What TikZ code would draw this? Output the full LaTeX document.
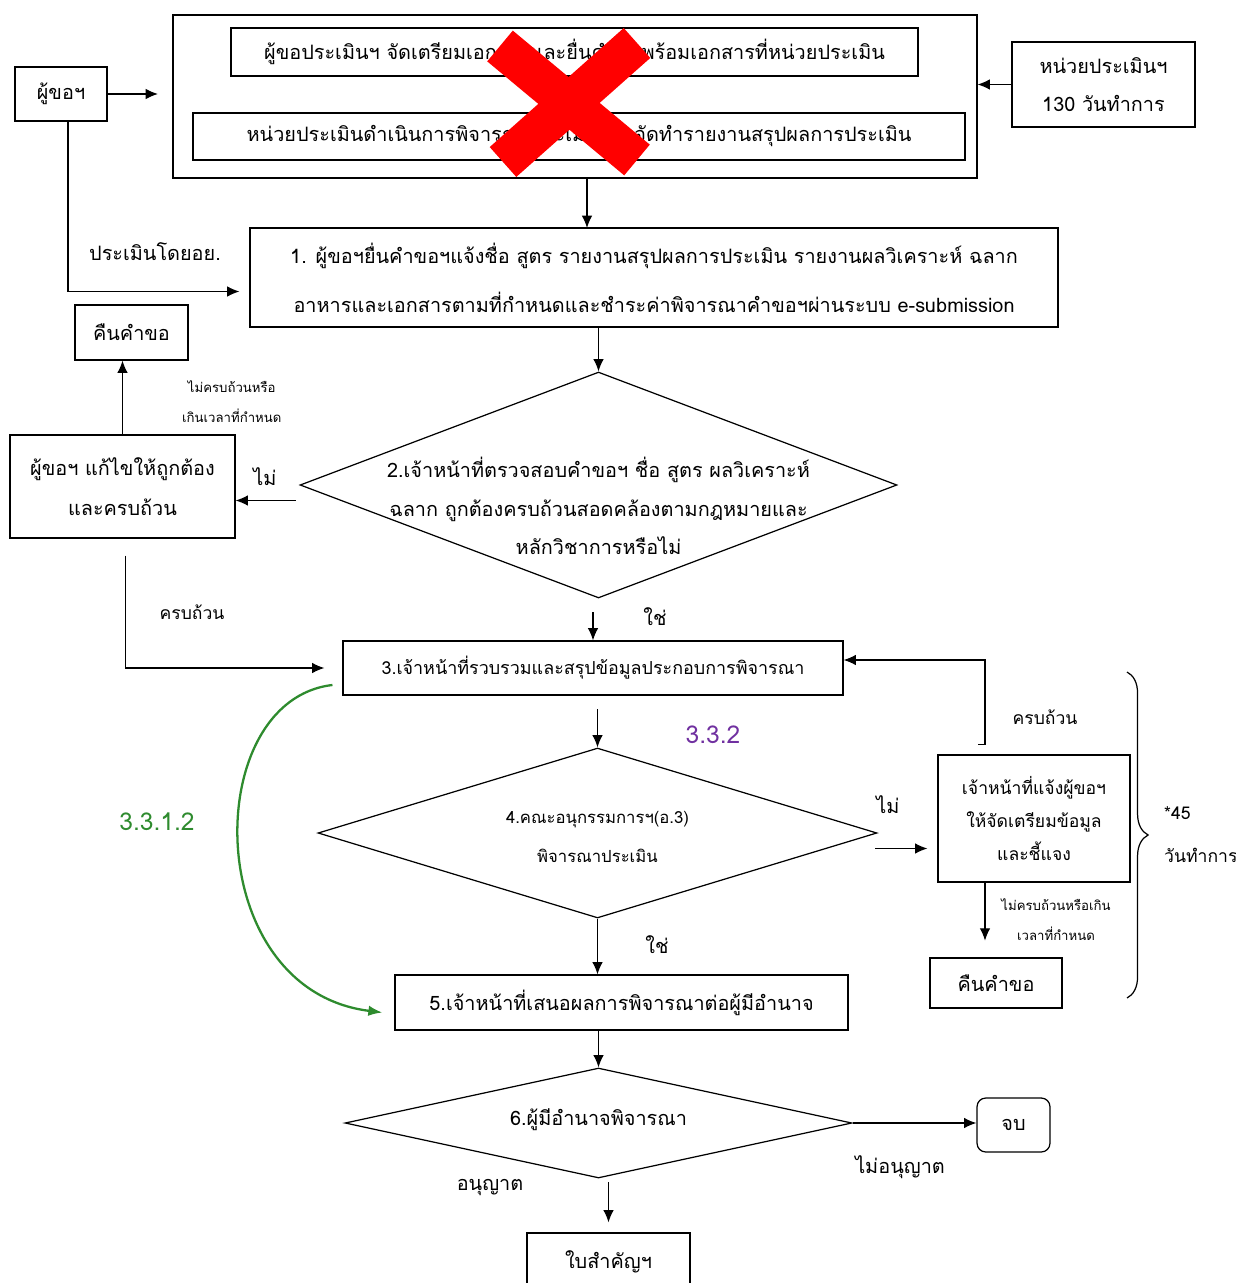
\documentclass[tikz,border=0pt]{standalone}
\usepackage{fontspec}
\setmainfont{Loma}[Script=Thai]
\usepackage{tikz}
\usetikzlibrary{arrows,arrows.meta,positioning,calc,shapes.geometric,decorations.pathreplacing}
\definecolor{stepgreen}{RGB}{46,139,46}
\definecolor{steppurple}{RGB}{112,48,160}

\begin{document}
\begin{tikzpicture}[x=0.02cm,y=-0.02cm,font=\fontsize{11.3}{26}\selectfont,
	box/.style={draw,line width=0.7pt,align=center,inner sep=0pt},
	dia/.style={draw,line width=0.7pt,diamond,inner sep=0pt},
	arr/.style={line width=0.7pt,-{Latex[length=7pt,width=6pt]}},
	small/.style={align=center,font=\fontsize{7.5}{17}\selectfont}]
	\useasboundingbox (0,0) rectangle (1235,1283);
	\clip (0,0) rectangle (1235,1283);
	\node[box,minimum width=16.08cm,minimum height=3.26cm] (outer) at (575,96.5) {};
	\node[box,minimum width=13.74cm,minimum height=0.96cm] (prep) at (574.5,52) {ผู้ขอประเมินฯ จัดเตรียมเอกสารและยื่นคำขอพร้อมเอกสารที่หน่วยประเมิน};
	\node[box,minimum width=15.44cm,minimum height=0.94cm] (eval) at (579,136.5) {หน่วยประเมินดำเนินการพิจารณาประเมินและจัดทำรายงานสรุปผลการประเมิน};
	\draw[red,line width=0.8cm] (500,46) -- (637,160) (637,43) -- (503,162);
	\node[box,minimum width=1.84cm,minimum height=1.08cm] (req) at (61,94) {ผู้ขอฯ};
	\node[box,minimum width=3.66cm,minimum height=1.70cm,font=\fontsize{11.3}{22}\selectfont] (unit) at (1103.5,84.5) {หน่วยประเมินฯ\\130 วันทำการ};
	\node[box,minimum width=16.16cm,minimum height=1.98cm,font=\fontsize{11.3}{28}\selectfont] (s1) at (654,277.5) {1. ผู้ขอฯยื่นคำขอฯแจ้งชื่อ สูตร รายงานสรุปผลการประเมิน รายงานผลวิเคราะห์ ฉลาก\\อาหารและเอกสารตามที่กำหนดและชำระค่าพิจารณาคำขอฯผ่านระบบ e-submission};
	\node[box,minimum width=2.26cm,minimum height=1.10cm] (ret1) at (131.5,332.5) {คืนคำขอ};
	\node[box,minimum width=4.50cm,minimum height=2.06cm,font=\fontsize{11.3}{23}\selectfont] (fix) at (122.5,486.5) {ผู้ขอฯ แก้ไขให้ถูกต้อง\\และครบถ้วน};
	\node[dia,minimum width=11.94cm,minimum height=4.52cm] (d2) at (598.5,485) {};
	\node[align=center,font=\fontsize{11.3}{22}\selectfont] (d2t) at ($(d2)+(0,21)$) {2.เจ้าหน้าที่ตรวจสอบคำขอฯ ชื่อ สูตร ผลวิเคราะห์\\ฉลาก ถูกต้องครบถ้วนสอดคล้องตามกฎหมายและ\\หลักวิชาการหรือไม่};
	\node[box,minimum width=10.0cm,minimum height=1.08cm,font=\fontsize{10.2}{12}\selectfont] (s3) at (593,668) {3.เจ้าหน้าที่รวบรวมและสรุปข้อมูลประกอบการพิจารณา};
	\node[dia,minimum width=11.18cm,minimum height=3.40cm] (d4) at (597.5,833) {};
	\node[align=center,font=\fontsize{9.5}{22}\selectfont] (d4t) at ($(d4)+(0,4)$) {4.คณะอนุกรรมการฯ(อ.3)\\พิจารณาประเมิน};
	\node[box,minimum width=3.84cm,minimum height=2.54cm,font=\fontsize{10}{19}\selectfont] (notify) at (1034,818.5) {เจ้าหน้าที่แจ้งผู้ขอฯ\\ให้จัดเตรียมข้อมูล\\และชี้แจง};
	\node[box,minimum width=2.64cm,minimum height=1.00cm] (ret2) at (996,983) {คืนคำขอ};
	\node[box,minimum width=9.06cm,minimum height=1.10cm] (s5) at (621.5,1002.5) {5.เจ้าหน้าที่เสนอผลการพิจารณาต่อผู้มีอำนาจ};
	\node[dia,minimum width=10.14cm,minimum height=2.20cm] (d6) at (598.5,1123) {};
	\node (d6t) at ($(d6)+(0,-3)$) {6.ผู้มีอำนาจพิจารณา};
	\node[box,rounded corners=5pt,minimum width=1.46cm,minimum height=1.08cm] (endn) at (1013.5,1125) {จบ};
	\node[box,minimum width=3.26cm,minimum height=1.16cm] (cert) at (608.5,1262) {ใบสำคัญฯ};

	\coordinate (a1) at (158,94);
	\coordinate (k1) at (587,228);
	\draw[arr] (req.east) -- (a1);
	\draw[arr] (unit.west) -- (unit.west -| outer.east);
	\draw[arr] (outer.south -| k1) -- (k1);
	\draw[arr] ($(req.south)+(7,0)$) |- ($(s1.west)+(-10,14)$);
	\draw[arr] (s1.south -| d2.north) -- (d2.north);
	\draw[arr] ($(fix.east)+(60,14)$) -- ($(fix.east)+(0,14)$);
	\draw[arr] (fix.north) -- (fix.north |- ret1.south);
	\draw[arr] (fix.south) ++(3,17) |- ($(s3.west)+(-18,0)$);
	\draw[arr] (s3.north) ++(0,-28) -- (s3.north);
	\draw[arr] (d4.north) ++(0,-38) -- (d4.north);
	\draw[arr] (notify.west) ++(-62,30) -- ++(52,0);
	\draw[arr] ($(notify.north)+(-56,-10)$) -- ++(7,0) |- ($(s3.east)+(0,-8)$);
	\draw[arr] ($(notify.south)+(-49,0)$) -- ++(0,58);
	\draw[arr] (d4.south) -- (d4.south |- s5.north);
	\draw[arr] (s5.south -| d6.north) -- (d6.north);
	\draw[arr] (d6.east) -- (d6.east -| endn.west);
	\draw[arr] (cert.north) ++(0,-50) -- ++(0,40);
	\draw[stepgreen,line width=1.3pt,-{Latex[length=8pt,width=6pt]}] ($(s3.west)+(-10,17)$) .. controls (200,700) and (200,990) .. ($(s5.west)+(-12,10)$);
	\coordinate (b1) at (1127,672);
	\coordinate (b2) at (1127,998);
	\draw[line width=0.7pt,decorate,decoration={brace,amplitude=12pt}] (b1) -- (b2);

	\node (l1) at (155,252) {ประเมินโดยอย.};
	\node[small,anchor=west] (l2) at (176,402) {ไม่ครบถ้วนหรือ\\เกินเวลาที่กำหนด};
	\node (l3) at (265,477) {ไม่};
	\node[font=\fontsize{10}{12}\selectfont] (l4) at (192,612) {ครบถ้วน};
	\node (l5) at (655,617) {ใช่};
	\node[steppurple,font=\fontsize{14}{16}\selectfont] (l6) at (713,735) {3.3.2};
	\node[stepgreen,font=\fontsize{14}{16}\selectfont] (l7) at (157,822) {3.3.1.2};
	\node (l8) at (888,805) {ไม่};
	\node[font=\fontsize{10}{12}\selectfont] (l9) at (1045,717) {ครบถ้วน};
	\node[small] (l10) at (1056,920) {ไม่ครบถ้วนหรือเกิน\\เวลาที่กำหนด};
	\node[anchor=west,font=\fontsize{10}{12}\selectfont] (l11) at (1158,813) {*45};
	\node[anchor=west,font=\fontsize{10}{12}\selectfont] (l12) at (1158,855) {วันทำการ};
	\node (l13) at (657,945) {ใช่};
	\node (l14) at (900,1167) {ไม่อนุญาต};
	\node (l15) at (490,1188) {อนุญาต};
\end{tikzpicture}
\end{document}
